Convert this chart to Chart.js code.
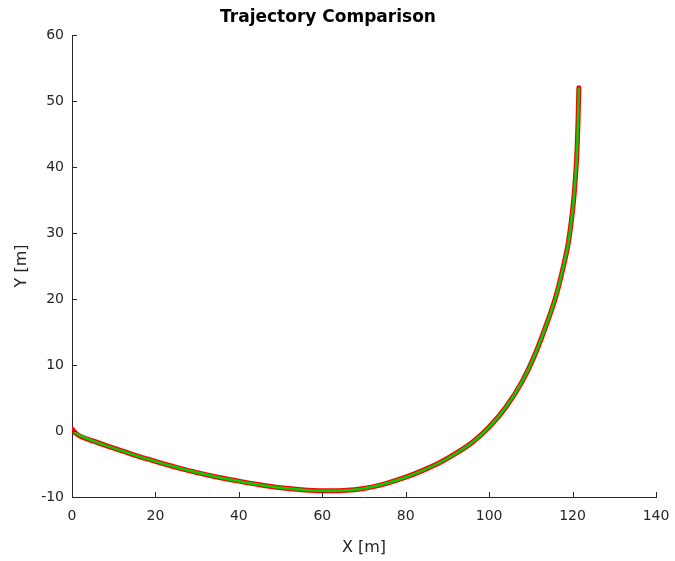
<!DOCTYPE html>
<html>
<head>
<meta charset="utf-8">
<script src="https://cdn.jsdelivr.net/npm/chart.js@4.4.1/dist/chart.umd.min.js"></script>
<style>
  html, body { margin: 0; padding: 0; background: #fff; }
  #wrap { width: 675px; height: 561px; }
</style>
</head>
<body>
<div id="wrap"><canvas id="trajChart" width="675" height="561"></canvas></div>
<script>
// reference path (red) and tracked path (green)
const refX = [0, 1, 5, 10, 15, 20, 25, 30, 35, 40, 45, 50, 55, 60, 65, 70, 75, 80, 84, 88, 92, 96, 100, 104, 108, 111, 114, 116, 118, 119, 119.7, 120.3, 120.7, 121.1, 121.3, 121.5];
const refY = [0.3, -0.4, -1.5, -2.6, -3.65, -4.6, -5.5, -6.3, -7.0, -7.6, -8.15, -8.6, -8.9, -9.05, -9.0, -8.7, -8.0, -7.0, -6.0, -4.85, -3.4, -1.7, 0.6, 3.6, 7.6, 11.6, 16.6, 20.4, 25.5, 28.6, 31.8, 35.3, 38.5, 43.0, 46.8, 52.0];
const actX = [0.5, 1, 5, 10, 15, 20, 25, 30, 35, 40, 45, 50, 55, 60, 65, 70, 75, 80, 84, 88, 92, 96, 100, 104, 108, 111, 114, 116, 118, 119, 119.7, 120.3, 120.7, 121.1, 121.3, 121.5];
const actY = [-0.2, -0.4, -1.5, -2.6, -3.65, -4.6, -5.5, -6.3, -7.0, -7.6, -8.15, -8.6, -8.9, -9.05, -9.0, -8.7, -8.0, -7.0, -6.0, -4.85, -3.4, -1.7, 0.6, 3.6, 7.6, 11.6, 16.6, 20.4, 25.5, 28.6, 31.8, 35.3, 38.5, 43.0, 46.8, 52.0];

const xTicks = [0, 20, 40, 60, 80, 100, 120, 140];
const yTicks = [-10, 0, 10, 20, 30, 40, 50, 60];

const axisColor = "#262626";
const fontFam = "'DejaVu Sans', Verdana, sans-serif";

const toPts = (xs, ys) => xs.map((x, i) => ({ x, y: ys[i] }));

// MATLAB style ticks pointing into the plot
const innerTicks = {
  id: "innerTicks",
  afterDraw(chart) {
    const { ctx, chartArea, scales } = chart;
    ctx.save();
    ctx.strokeStyle = axisColor;
    ctx.lineWidth = 1;
    ctx.beginPath();
    xTicks.forEach(v => {
      const px = Math.round(scales.x.getPixelForValue(v)) + 0.5;
      ctx.moveTo(px, chartArea.bottom);
      ctx.lineTo(px, chartArea.bottom - 5);
    });
    yTicks.forEach(v => {
      const py = Math.round(scales.y.getPixelForValue(v)) + 0.5;
      ctx.moveTo(chartArea.left, py);
      ctx.lineTo(chartArea.left + 5, py);
    });
    ctx.stroke();
    ctx.restore();
  }
};

new Chart(document.getElementById("trajChart"), {
  type: "scatter",
  data: {
    datasets: [
      {
        label: "Reference",
        data: toPts(refX, refY),
        showLine: true,
        borderColor: "rgb(255,0,0)",
        borderWidth: 5,
        pointRadius: 0,
        cubicInterpolationMode: "monotone",
        borderCapStyle: "round",
        order: 2
      },
      {
        label: "Actual",
        data: toPts(actX, actY),
        showLine: true,
        borderColor: "rgb(0,210,0)",
        borderWidth: 2.5,
        pointRadius: 0,
        cubicInterpolationMode: "monotone",
        order: 1
      }
    ]
  },
  options: {
    responsive: false,
    animation: false,
    layout: { padding: { left: 0, right: 19, top: 0, bottom: 0 } },
    plugins: {
      legend: { display: false },
      tooltip: { enabled: false },
      title: {
        display: true,
        text: "Trajectory Comparison",
        color: "#000",
        font: { family: fontFam, size: 17, weight: "bold" },
        padding: { top: 7, bottom: 7.6 }
      }
    },
    scales: {
      x: {
        type: "linear",
        min: 0,
        max: 140,
        afterBuildTicks: s => { s.ticks = xTicks.map(v => ({ value: v })); },
        afterFit: s => { s.height = 64; s.paddingLeft = 0; s.paddingRight = 0; },
        grid: { display: false, drawTicks: false },
        border: { color: axisColor, width: 1 },
        ticks: { color: axisColor, padding: 11, font: { family: fontFam, size: 14 } },
        title: {
          display: true,
          text: "X [m]",
          color: axisColor,
          font: { family: fontFam, size: 16 },
          padding: { top: 5 }
        }
      },
      y: {
        type: "linear",
        min: -10,
        max: 60,
        afterBuildTicks: s => { s.ticks = yTicks.map(v => ({ value: v })); },
        afterFit: s => { s.width = 72; s.paddingTop = 0; s.paddingBottom = 0; },
        grid: { display: false, drawTicks: false },
        border: { color: axisColor, width: 1 },
        ticks: { color: axisColor, padding: 8, font: { family: fontFam, size: 14 } },
        title: {
          display: true,
          text: "Y [m]",
          color: axisColor,
          font: { family: fontFam, size: 16 },
          padding: { top: 12, bottom: 0 }
        }
      }
    }
  },
  plugins: [innerTicks]
});
</script>
</body>
</html>
